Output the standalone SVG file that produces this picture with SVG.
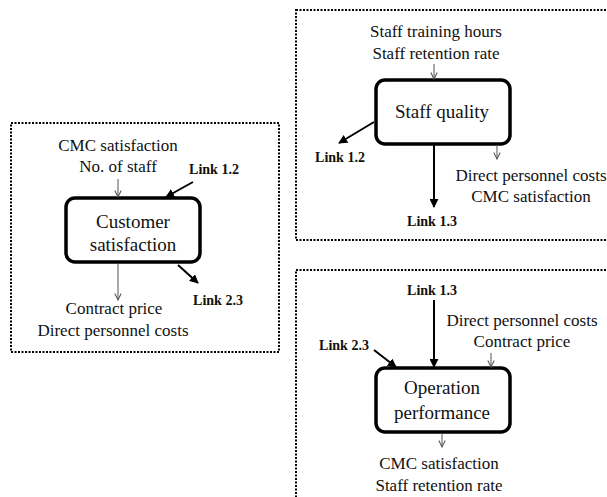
<svg xmlns="http://www.w3.org/2000/svg" width="607" height="497" viewBox="0 0 607 497">
<defs>
<marker id="ah" viewBox="0 0 10 10" refX="9" refY="5" markerWidth="4.5" markerHeight="4.5" orient="auto" markerUnits="strokeWidth"><path d="M0,0 L10,5 L0,10 Z" fill="#000"/></marker>
<marker id="ag" viewBox="0 0 10 10" refX="9" refY="5" markerWidth="8" markerHeight="8" orient="auto" markerUnits="strokeWidth"><path d="M1,1 L9,5 L1,9" fill="none" stroke="#555" stroke-width="1.3"/></marker>
</defs>
<style>
.frame{fill:none;stroke:#000;stroke-width:2;stroke-dasharray:2 1.5}
.node{fill:#fff;stroke:#000;stroke-width:3.5}
text{font-family:'Liberation Serif','Times New Roman',serif;text-anchor:middle;fill:#111}
.nt{font-size:19px}
.t{font-size:17px}
.lk{font-size:14px;font-weight:bold}
.thick{stroke:#000;stroke-width:2;fill:none;marker-end:url(#ah)}
.thin{stroke:#555;stroke-width:1;fill:none;marker-end:url(#ag)}
</style>
<rect width="607" height="497" fill="#fff"/>
<rect class="frame" x="11" y="123" width="268" height="229"/>
<rect class="frame" x="296" y="10" width="320" height="230"/>
<rect class="frame" x="296" y="270" width="320" height="240"/>

<g id="customer-satisfaction">
<rect class="node" x="66" y="198" width="134" height="64" rx="9"/>
<text class="nt" x="133" y="228">Customer</text>
<text class="nt" x="133" y="251">satisfaction</text>
</g>
<g id="staff-quality">
<rect class="node" x="376" y="80" width="134" height="64" rx="9"/>
<text class="nt" x="442" y="118">Staff quality</text>
</g>
<g id="operation-performance">
<rect class="node" x="376" y="368" width="134" height="64" rx="9"/>
<text class="nt" x="442" y="394">Operation</text>
<text class="nt" x="442" y="419">performance</text>
</g>

<g id="labels">
<text class="t" x="118" y="151">CMC satisfaction</text>
<text class="t" x="118" y="172">No. of staff</text>
<text class="lk" x="214" y="174">Link 1.2</text>
<text class="t" x="114" y="314">Contract price</text>
<text class="t" x="113" y="336">Direct personnel costs</text>
<text class="lk" x="218" y="305">Link 2.3</text>

<text class="t" x="436" y="37">Staff training hours</text>
<text class="t" x="436" y="59">Staff retention rate</text>
<text class="lk" x="340" y="162">Link 1.2</text>
<text class="lk" x="432" y="226">Link 1.3</text>
<text class="t" x="531" y="181">Direct personnel costs</text>
<text class="t" x="531" y="202">CMC satisfaction</text>

<text class="lk" x="432" y="295">Link 1.3</text>
<text class="t" x="522" y="326">Direct personnel costs</text>
<text class="t" x="522" y="347">Contract price</text>
<text class="lk" x="344" y="350">Link 2.3</text>
<text class="t" x="439" y="469">CMC satisfaction</text>
<text class="t" x="439" y="491">Staff retention rate</text>
</g>

<g id="connectors">
<line class="thin" x1="118" y1="179" x2="118" y2="197"/>
<line class="thick" x1="193" y1="182" x2="166" y2="197"/>
<line class="thin" x1="118" y1="263" x2="118" y2="300"/>
<line class="thick" x1="178" y1="265" x2="198" y2="283"/>

<line class="thin" x1="434" y1="64" x2="434" y2="79"/>
<line class="thick" x1="374" y1="122" x2="339" y2="143"/>
<line class="thick" x1="434" y1="145" x2="434" y2="207"/>
<line class="thin" x1="497" y1="145" x2="497" y2="159"/>

<line class="thick" x1="434" y1="300" x2="434" y2="367"/>
<line class="thin" x1="491" y1="353" x2="491" y2="367"/>
<line class="thick" x1="374" y1="350" x2="396" y2="367"/>
<line class="thin" x1="442" y1="433" x2="442" y2="447"/>
</g>
</svg>
